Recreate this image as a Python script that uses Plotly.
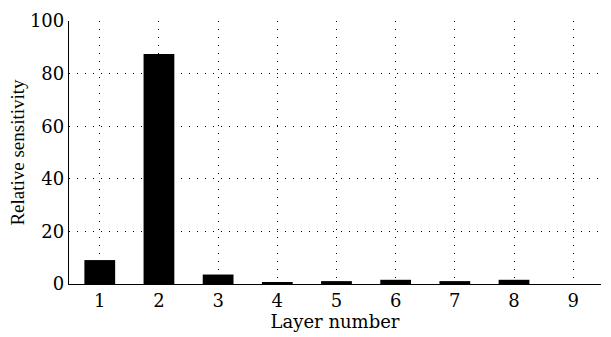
import plotly.graph_objects as go

layers = [1, 2, 3, 4, 5, 6, 7, 8, 9]
sensitivity = [9.1, 87.5, 3.6, 0.6, 1.1, 1.6, 1.1, 1.6, 0.0]
x_ticks = [1, 2, 3, 4, 5, 6, 7, 8, 9]
y_ticks = [0, 20, 40, 60, 80, 100]

wide_serif = "DejaVu Serif, serif"
narrow_serif = "Liberation Serif, Times New Roman, serif"

fig = go.Figure(
    go.Bar(
        x=layers,
        y=sensitivity,
        width=0.52,
        marker=dict(color="black", line=dict(width=0)),
    )
)

fig.update_layout(
    width=611,
    height=337,
    margin=dict(l=69, r=10, t=12, b=53),
    paper_bgcolor="white",
    plot_bgcolor="white",
    showlegend=False,
    font=dict(family=wide_serif, size=18, color="black"),
)

fig.update_xaxes(
    range=[0.48, 9.47],
    tickmode="array",
    tickvals=x_ticks,
    ticktext=[str(v) for v in x_ticks],
    ticks="",
    showline=True,
    linecolor="black",
    linewidth=1.3,
    showgrid=True,
    gridcolor="black",
    gridwidth=1,
    griddash="1px,7px",
    zeroline=False,
    title=dict(text="Layer number", font=dict(family=wide_serif, size=18), standoff=2),
    tickfont=dict(family=wide_serif, size=18),
)

fig.update_yaxes(
    range=[0, 100],
    tickmode="array",
    tickvals=y_ticks,
    ticks="",
    showline=True,
    linecolor="black",
    linewidth=1.3,
    showgrid=True,
    gridcolor="black",
    gridwidth=1,
    griddash="1px,7px",
    zeroline=False,
    title=dict(text="Relative sensitivity", font=dict(family=narrow_serif, size=19), standoff=0),
    tickfont=dict(family=wide_serif, size=18),
)

fig.write_html("out.html")
